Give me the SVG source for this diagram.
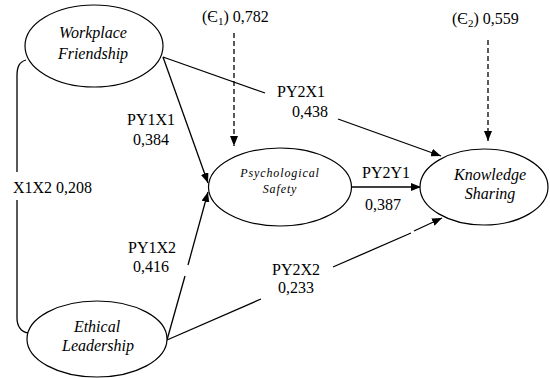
<svg xmlns="http://www.w3.org/2000/svg" width="550" height="378" viewBox="0 0 550 378">
<defs>
<marker id="arr" viewBox="0 0 10 8" refX="10" refY="4" markerWidth="10" markerHeight="8" markerUnits="userSpaceOnUse" orient="auto">
<path d="M0,0 L10,4 L0,8 Z" fill="#000"/>
</marker>
<style>
text{font-family:"Liberation Serif","DejaVu Serif",serif;fill:#000}
.nt{font-style:italic;font-size:16px;text-anchor:middle}
.ps{font-size:12px;letter-spacing:0.9px}
.lb{font-size:16px}
.node ellipse{fill:#fff;stroke:#000;stroke-width:1.2}
.c line,.c path{stroke:#000;stroke-width:1.3;fill:none}
.d{stroke-dasharray:5 3}
</style>
</defs>
<rect width="550" height="378" fill="#fff"/>
<g class="c" id="connectors">
<path d="M26,60 C19,62 17,67 17,76 L17,172 M17,200 L17,318 C17,326 21,332 28,333"/>
<line x1="163" y1="57" x2="208" y2="183" marker-end="url(#arr)"/>
<line x1="167" y1="340" x2="185" y2="276"/>
<line x1="188" y1="265" x2="208" y2="192" marker-end="url(#arr)"/>
<line x1="163" y1="57" x2="265" y2="93"/>
<line x1="338" y1="119" x2="441" y2="156" marker-end="url(#arr)"/>
<line x1="351" y1="187" x2="421" y2="187" marker-end="url(#arr)"/>
<line x1="167" y1="340" x2="261" y2="299"/>
<line x1="333" y1="267" x2="411" y2="233"/>
<line x1="414" y1="231" x2="442" y2="218" marker-end="url(#arr)"/>
<line class="d" x1="234" y1="33" x2="234" y2="146" marker-end="url(#arr)"/>
<line class="d" x1="488" y1="40" x2="488" y2="141" marker-end="url(#arr)"/>
</g>
<g class="node" id="workplace-friendship">
<ellipse cx="94" cy="46" rx="69" ry="41"/>
<text class="nt" x="93" y="38">Workplace</text>
<text class="nt" x="93" y="59">Friendship</text>
</g>
<g class="node" id="ethical-leadership">
<ellipse cx="97" cy="339" rx="70" ry="38"/>
<text class="nt" x="97" y="332">Ethical</text>
<text class="nt" x="98" y="351">Leadership</text>
</g>
<g class="node" id="psychological-safety">
<ellipse cx="280" cy="187" rx="71.5" ry="39"/>
<text class="nt ps" x="280" y="177">Psychological</text>
<text class="nt ps" x="280" y="193">Safety</text>
</g>
<g class="node" id="knowledge-sharing">
<ellipse cx="484" cy="187" rx="64" ry="38"/>
<text class="nt" x="490" y="180">Knowledge</text>
<text class="nt" x="490" y="199">Sharing</text>
</g>
<g id="labels">
<text class="lb" x="202" y="22">(Є<tspan font-size="11" dy="3">1</tspan><tspan dy="-3">) 0,782</tspan></text>
<text class="lb" x="452" y="24">(Є<tspan font-size="11" dy="3">2</tspan><tspan dy="-3">) 0,559</tspan></text>
<text class="lb" x="13" y="193">X1X2 0,208</text>
<text class="lb" x="127" y="125">PY1X1</text>
<text class="lb" x="133" y="145">0,384</text>
<text class="lb" x="277" y="97">PY2X1</text>
<text class="lb" x="292" y="117">0,438</text>
<text class="lb" x="128" y="253">PY1X2</text>
<text class="lb" x="133" y="272">0,416</text>
<text class="lb" x="362" y="178">PY2Y1</text>
<text class="lb" x="365" y="210">0,387</text>
<text class="lb" x="272" y="275">PY2X2</text>
<text class="lb" x="278" y="293">0,233</text>
</g>
</svg>
